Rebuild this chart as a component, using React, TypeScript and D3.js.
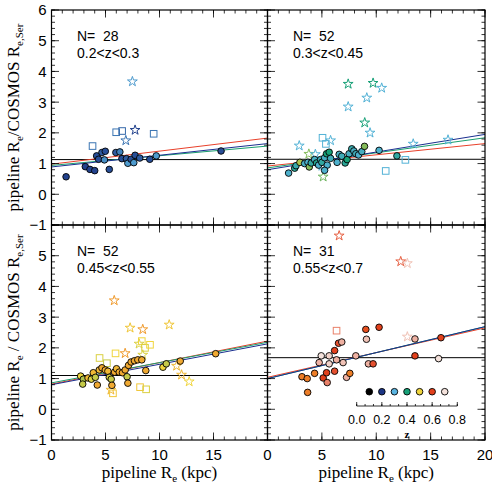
import React from "react";
import * as d3 from "d3";

// [pipeline Re (kpc), ratio, z]
type Pt = [number, number, number];

const W = 492;
const H = 486;
const colX = [51.5, 267.5, 485];
const rowY = [10, 225, 440];

const zStops = [0.1, 0.2, 0.3, 0.4, 0.5, 0.55, 0.6, 0.7];
const zColors = ["#000000", "#1c3584", "#5ab4e1", "#17a077", "#f0d53c", "#f08c2a", "#e2401c", "#f4e2dc"];

const zBins = ["0.2<z<0.3", "0.3<z<0.45", "0.45<z<0.55", "0.55<z<0.7"];
const nGal = [28, 52, 52, 31];

// 0.2 < z < 0.3
const circlesA: Pt[] = [
  [1.35, 0.57, 0.21], [3.13, 0.9, 0.21], [3.56, 0.81, 0.21], [4.0, 0.77, 0.21],
  [4.18, 1.25, 0.22], [4.36, 1.14, 0.22], [4.67, 1.36, 0.23], [4.98, 1.4, 0.22],
  [4.9, 1.12, 0.27], [5.35, 0.81, 0.22], [5.96, 1.36, 0.23], [6.33, 1.38, 0.26],
  [6.52, 1.16, 0.22], [6.94, 1.16, 0.23], [7.07, 1.01, 0.28], [7.37, 1.14, 0.22],
  [7.62, 1.03, 0.28], [7.74, 1.27, 0.22], [8.17, 1.18, 0.23], [9.1, 1.14, 0.22],
  [9.7, 1.25, 0.28], [15.7, 1.41, 0.22],
];
const squaresA: Pt[] = [[3.8, 1.57, 0.25], [5.99, 2.02, 0.25], [6.54, 2.06, 0.24], [9.46, 1.97, 0.25]];
const starsA: Pt[] = [[7.49, 3.67, 0.28], [7.74, 2.09, 0.21], [6.88, 1.75, 0.25]];

// 0.3 < z < 0.45
const circlesB: Pt[] = [
  [1.94, 0.69, 0.32], [2.5, 0.85, 0.37], [2.62, 0.93, 0.35], [2.98, 1.04, 0.47],
  [3.41, 1.0, 0.33], [3.72, 1.04, 0.32], [3.84, 0.89, 0.45], [4.02, 1.02, 0.36],
  [4.33, 1.13, 0.33], [4.51, 1.02, 0.38], [4.7, 0.95, 0.32], [4.88, 1.13, 0.34],
  [5.0, 1.04, 0.36], [5.25, 1.19, 0.33], [5.43, 1.32, 0.4], [5.67, 1.37, 0.4],
  [5.49, 0.95, 0.32], [5.8, 1.17, 0.34], [5.25, 0.78, 0.32], [6.4, 1.04, 0.32],
  [6.59, 1.3, 0.33], [6.83, 1.24, 0.34], [7.14, 1.02, 0.37], [7.32, 1.13, 0.4],
  [7.5, 1.32, 0.33], [7.75, 1.48, 0.35], [7.94, 1.41, 0.33], [8.12, 1.32, 0.34],
  [8.37, 1.28, 0.32], [8.67, 1.39, 0.33], [8.92, 1.56, 0.45], [10.26, 1.43, 0.32],
  [11.9, 1.25, 0.36],
];
const squaresB: Pt[] = [[5.06, 1.84, 0.31], [5.37, 1.64, 0.31], [10.87, 0.76, 0.31], [12.68, 1.12, 0.31]];
const starsB: Pt[] = [
  [7.42, 3.59, 0.4], [9.71, 3.62, 0.4], [10.5, 3.46, 0.31], [9.13, 3.14, 0.31],
  [7.42, 2.85, 0.31], [8.94, 2.33, 0.4], [9.43, 2.0, 0.31], [2.92, 1.58, 0.31],
  [5.8, 1.75, 0.31], [13.4, 1.64, 0.31], [16.6, 1.77, 0.31], [3.8, 1.31, 0.45],
  [5.12, 0.57, 0.44], [5.0, 0.92, 0.31], [4.4, 1.3, 0.31],
];

// 0.45 < z < 0.55
const circlesC: Pt[] = [
  [2.7, 1.08, 0.5], [2.95, 0.98, 0.47], [2.89, 0.82, 0.48], [3.38, 1.02, 0.52],
  [3.69, 0.98, 0.49], [3.87, 1.19, 0.52], [4.06, 1.04, 0.48], [4.24, 0.79, 0.53],
  [4.42, 1.28, 0.52], [4.67, 1.35, 0.53], [4.98, 1.28, 0.53], [5.22, 1.24, 0.52],
  [5.35, 1.04, 0.49], [5.53, 0.98, 0.48], [5.59, 0.78, 0.53], [5.84, 1.21, 0.53],
  [6.02, 1.32, 0.52], [6.27, 1.21, 0.53], [6.57, 1.19, 0.53], [6.82, 1.28, 0.53],
  [7.0, 1.06, 0.48], [7.07, 0.85, 0.53], [7.13, 1.43, 0.53], [7.37, 1.54, 0.53],
  [7.68, 1.58, 0.53], [7.99, 1.61, 0.53], [8.36, 1.61, 0.53], [8.73, 1.26, 0.53],
  [10.32, 1.37, 0.5], [10.63, 1.48, 0.48], [11.92, 1.57, 0.53], [15.2, 1.81, 0.53],
];
const squaresC: Pt[] = [
  [4.45, 1.67, 0.49], [5.93, 1.82, 0.5], [8.36, 2.22, 0.5], [8.66, 2.0, 0.49],
  [9.12, 2.1, 0.5], [8.2, 0.72, 0.51], [8.76, 0.65, 0.49], [5.13, 1.5, 0.48], [5.69, 0.52, 0.51],
];
const starsC: Pt[] = [
  [5.81, 3.54, 0.54], [7.28, 2.65, 0.51], [8.45, 2.6, 0.54], [10.9, 2.75, 0.51],
  [6.82, 1.82, 0.54], [8.11, 2.13, 0.49], [8.45, 1.77, 0.49], [11.58, 1.41, 0.52],
  [12.04, 1.12, 0.52], [12.75, 0.9, 0.5], [5.5, 0.63, 0.52],
];

// 0.55 < z < 0.7
const circlesD: Pt[] = [
  [3.17, 1.06, 0.56], [3.65, 1.0, 0.56], [3.69, 0.55, 0.56], [4.33, 1.17, 0.56],
  [4.75, 1.52, 0.67], [4.94, 1.74, 0.7], [5.12, 1.02, 0.6], [5.43, 1.19, 0.6],
  [5.49, 0.87, 0.64], [5.67, 1.74, 0.69], [5.67, 1.48, 0.69], [6.17, 1.24, 0.61],
  [6.17, 1.91, 0.6], [6.35, 1.61, 0.67], [6.53, 2.15, 0.61], [6.83, 2.19, 0.67],
  [6.95, 1.52, 0.68], [7.27, 1.04, 0.67], [7.57, 1.17, 0.56], [8.12, 1.74, 0.67],
  [9.04, 2.6, 0.59], [9.1, 2.28, 0.68], [9.28, 1.48, 0.67], [9.71, 1.48, 0.61],
  [10.26, 2.67, 0.6], [13.56, 2.29, 0.67], [13.56, 1.74, 0.6], [15.95, 2.33, 0.6],
  [15.73, 1.65, 0.7],
];
const squaresD: Pt[] = [[6.35, 2.56, 0.64]];
const starsD: Pt[] = [[6.59, 5.65, 0.62], [12.25, 4.81, 0.62], [12.86, 4.75, 0.68], [12.86, 2.36, 0.68]];

// median ratio (black) and fits: ratio at Re = 0 and Re = 20
const medianRatio = [1.13, 1.14, 1.1, 1.68];
const fitRed = [[0.98, 1.83], [0.92, 1.65], [0.82, 2.22], [1.04, 2.65]];
const fitGreen = [[0.94, 1.57], [0.86, 1.84], [0.86, 2.18], [1.0, 2.69]];
const fitBlue = [[0.89, 1.65], [0.8, 1.95], [0.8, 2.13], [1.0, 2.69]];

const legendZ = [0.1, 0.2, 0.3, 0.4, 0.5, 0.6, 0.7];

const panels = [
  { circles: circlesA, squares: squaresA, stars: starsA },
  { circles: circlesB, squares: squaresB, stars: starsB },
  { circles: circlesC, squares: squaresC, stars: starsC },
  { circles: circlesD, squares: squaresD, stars: starsD },
];

const zColor = d3.scaleLinear<string>().domain(zStops).range(zColors).interpolate(d3.interpolateRgb).clamp(true);
const starPath = d3.symbol().type(d3.symbolStar).size(30)() as string;

const SANS = "'Liberation Sans', Arial, sans-serif";
const SERIF = "'Liberation Serif', 'Times New Roman', serif";

const fmtY = (v: number) => (v < 0 ? "\u2212" + Math.abs(v) : String(v));

function Panel({ idx }: { idx: number }) {
  const col = idx % 2;
  const row = Math.floor(idx / 2);
  const x = d3.scaleLinear().domain([0, 20]).range([colX[col], colX[col + 1]]);
  const y = d3.scaleLinear().domain([-1, 6]).range([rowY[row + 1], rowY[row]]);
  const p = panels[idx];
  const [x0, x1] = x.range();
  const [y0, y1] = y.range();

  const majX = x.ticks(4);
  const minX = d3.range(0, 20.001, 1);
  const majY = d3.range(-1, 6.001, 1);
  const minY = d3.range(-1, 6.001, 0.2);
  const line = (f: number[]) => `M${x(0)},${y(f[0])}L${x(20)},${y(f[1])}`;

  return (
    <g>
      <defs>
        <clipPath id={`clip${idx}`}>
          <rect x={x0} y={y1} width={x1 - x0} height={y0 - y1} />
        </clipPath>
      </defs>
      <g clipPath={`url(#clip${idx})`}>
        <line x1={x0} x2={x1} y1={y(medianRatio[idx])} y2={y(medianRatio[idx])} stroke="#000" strokeWidth={1} />
        <path d={line(fitRed[idx])} stroke="#e8402a" strokeWidth={1} fill="none" />
        <path d={line(fitGreen[idx])} stroke="#1a9e6e" strokeWidth={1} fill="none" />
        <path d={line(fitBlue[idx])} stroke="#1a2f8f" strokeWidth={1} fill="none" />
        {p.stars.map((d, i) => (
          <path key={"s" + i} d={starPath} transform={`translate(${x(d[0])},${y(d[1])})`}
            fill="none" stroke={zColor(d[2])} strokeWidth={1} />
        ))}
        {p.squares.map((d, i) => (
          <rect key={"q" + i} x={x(d[0]) - 3.3} y={y(d[1]) - 3.3} width={6.6} height={6.6}
            fill="none" stroke={zColor(d[2])} strokeWidth={1} />
        ))}
        {p.circles.map((d, i) => (
          <circle key={"c" + i} cx={x(d[0])} cy={y(d[1])} r={3.3}
            fill={zColor(d[2])} stroke="#000" strokeWidth={0.9} />
        ))}
      </g>
      {/* ticks on all four sides, pointing inward */}
      {minX.map((t) => (
        <g key={"mx" + t} stroke="#000" strokeWidth={0.8}>
          <line x1={x(t)} x2={x(t)} y1={y0} y2={y0 - 3.5} />
          <line x1={x(t)} x2={x(t)} y1={y1} y2={y1 + 3.5} />
        </g>
      ))}
      {majX.map((t) => (
        <g key={"Mx" + t} stroke="#000" strokeWidth={0.8}>
          <line x1={x(t)} x2={x(t)} y1={y0} y2={y0 - 7.5} />
          <line x1={x(t)} x2={x(t)} y1={y1} y2={y1 + 7.5} />
        </g>
      ))}
      {minY.map((t) => (
        <g key={"my" + t.toFixed(1)} stroke="#000" strokeWidth={0.8}>
          <line x1={x0} x2={x0 + 3.5} y1={y(t)} y2={y(t)} />
          <line x1={x1} x2={x1 - 3.5} y1={y(t)} y2={y(t)} />
        </g>
      ))}
      {majY.map((t) => (
        <g key={"My" + t} stroke="#000" strokeWidth={0.8}>
          <line x1={x0} x2={x0 + 7.5} y1={y(t)} y2={y(t)} />
          <line x1={x1} x2={x1 - 7.5} y1={y(t)} y2={y(t)} />
        </g>
      ))}
      <rect x={x0} y={y1} width={x1 - x0} height={y0 - y1} fill="none" stroke="#000" strokeWidth={1.2} />
      {col === 0 &&
        majY
          .filter((t) => row === 0 || t < 6)
          .map((t) => (
            <text key={"ly" + t} x={x0 - 5} y={y(t)} dy="0.36em" textAnchor="end"
              fontFamily={SANS} fontSize={15}>{fmtY(t)}</text>
          ))}
      {row === 1 &&
        majX
          .filter((t) => col === 1 || t < 20)
          .map((t) => (
            <text key={"lx" + t} x={x(t)} y={y0 + 20} textAnchor="middle"
              fontFamily={SANS} fontSize={15}>{t}</text>
          ))}
      <text x={x0 + 25.5} y={y1 + 31} fontFamily={SANS} fontSize={14}>
        {"N=\u00a0\u00a0" + nGal[idx]}
      </text>
      <text x={x0 + 25.5} y={y1 + 48} fontFamily={SANS} fontSize={14}>
        {zBins[idx]}
      </text>
      {row === 1 && (
        <text x={(x0 + x1) / 2} y={478} textAnchor="middle" fontFamily={SERIF} fontSize={17}>
          pipeline R<tspan dy={4} fontSize={11}>e</tspan><tspan dy={-4}> (kpc)</tspan>
        </text>
      )}
    </g>
  );
}

function ZLegend() {
  const z = d3.scaleLinear().domain([0, 0.8]).range([356.7, 457.3]);
  const axisY = 406;
  const majors = d3.range(0, 0.801, 0.2);
  const minors = d3.range(0, 0.801, 0.2 / 3);
  return (
    <g>
      {legendZ.map((v) => (
        <circle key={v} cx={z(v)} cy={391.7} r={3.3} fill={zColor(v)} stroke="#000" strokeWidth={0.9} />
      ))}
      <line x1={z(0)} x2={z(0.8)} y1={axisY} y2={axisY} stroke="#000" strokeWidth={0.8} />
      {minors.map((t, i) => (
        <line key={"m" + i} x1={z(t)} x2={z(t)} y1={axisY} y2={axisY - 2} stroke="#000" strokeWidth={0.8} />
      ))}
      {majors.map((t, i) => (
        <g key={"M" + i}>
          <line x1={z(t)} x2={z(t)} y1={axisY} y2={axisY - 4} stroke="#000" strokeWidth={0.8} />
          <text x={z(t)} y={424} textAnchor="middle" fontFamily={SANS} fontSize={12.5}>{t.toFixed(1)}</text>
        </g>
      ))}
      <text x={z(0.4)} y={437.5} textAnchor="middle" fontFamily={SERIF} fontSize={11} fontWeight="bold">z</text>
    </g>
  );
}

function YTitle({ cy, text }: { cy: number; text: string[] }) {
  return (
    <text transform={`translate(19,${cy}) rotate(-90)`} textAnchor="middle" fontFamily={SERIF} fontSize={17}>
      {text[0]}<tspan dy={4} fontSize={11}>e</tspan>
      <tspan dy={-4}>{text[1]}</tspan><tspan dy={4} fontSize={11}>e,Ser</tspan>
    </text>
  );
}

export default function App() {
  return (
    <svg width={W} height={H} style={{ position: "absolute", left: 0, top: 0, background: "#fff" }}>
      {[0, 1, 2, 3].map((i) => (
        <Panel key={i} idx={i} />
      ))}
      <ZLegend />
      <YTitle cy={(rowY[0] + rowY[1]) / 2} text={["pipeline R", "/COSMOS R"]} />
      <YTitle cy={(rowY[1] + rowY[2]) / 2} text={["pipeline R", " / COSMOS R"]} />
    </svg>
  );
}
